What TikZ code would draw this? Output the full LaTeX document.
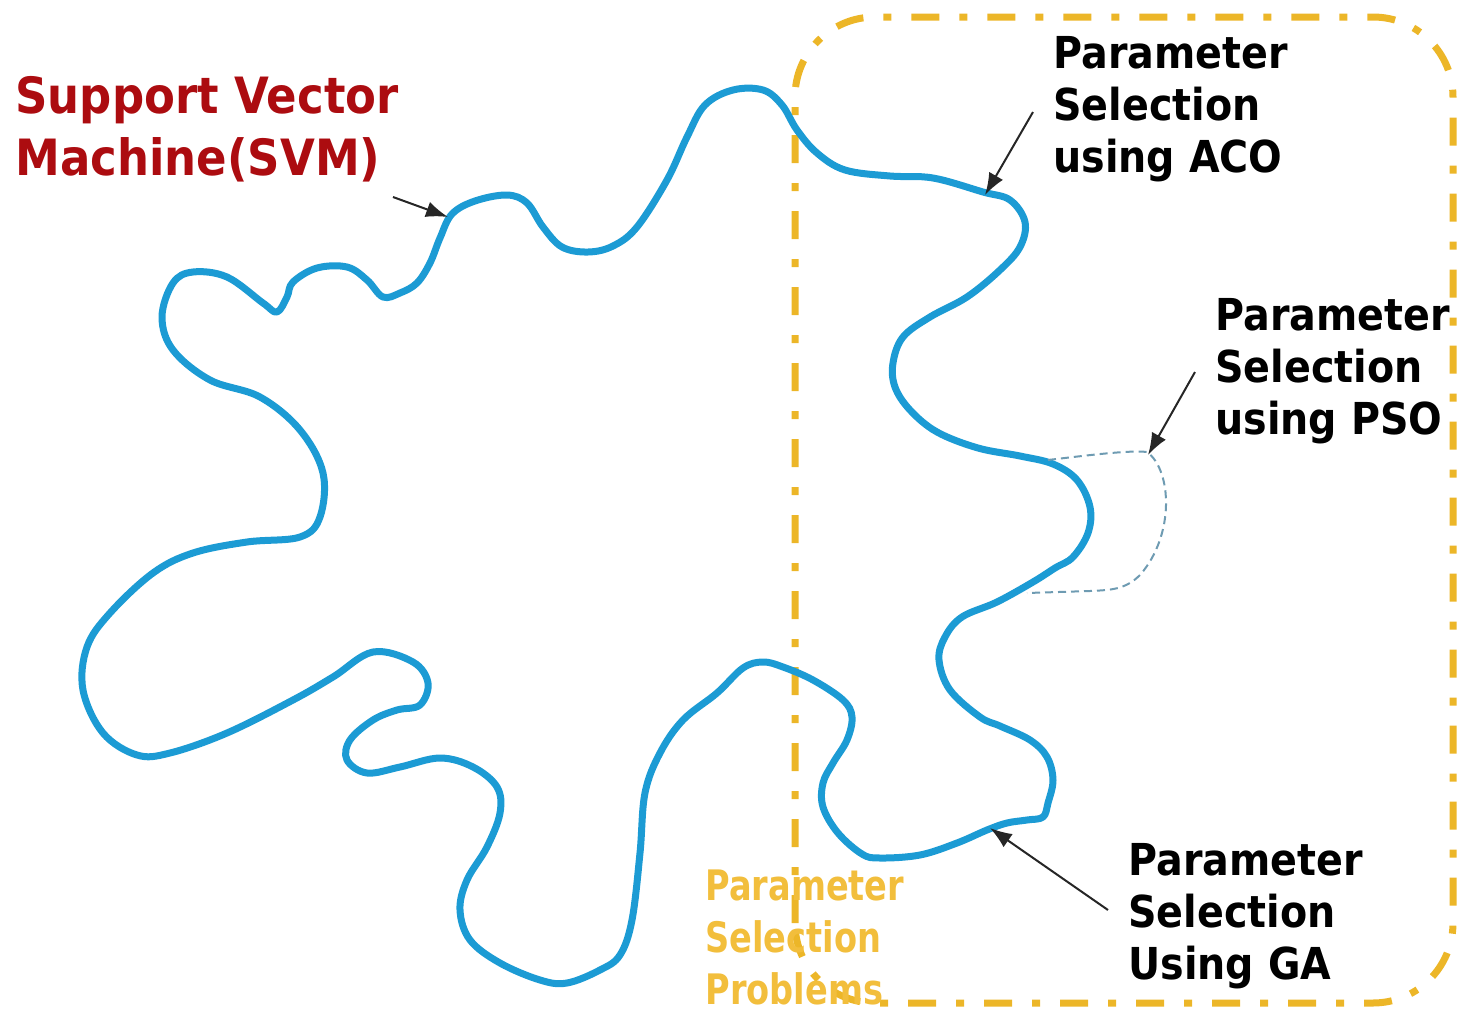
\documentclass[tikz,border=0pt]{standalone}
\usepackage{fontspec}
\newfontfamily\lblfont[FakeStretch=0.9]{DejaVu Sans}
\newfontfamily\probfont[FakeStretch=0.8]{DejaVu Sans}
\usetikzlibrary{arrows.meta}
\definecolor{blobblue}{RGB}{28,155,212}
\definecolor{frameyel}{RGB}{236,182,40}
\definecolor{svmred}{RGB}{172,12,16}
\definecolor{probor}{RGB}{242,190,60}
\definecolor{psogray}{RGB}{110,155,178}
\begin{document}
\begin{tikzpicture}[x=0.5pt,y=-0.5pt,
  blob/.style={draw=blobblue, line width=3.5pt, line join=round},
  frame/.style={draw=frameyel, line width=3.5pt, dash pattern=on 14pt off 10pt on 4pt off 10pt, rounded corners=40pt},
  psoline/.style={draw=psogray, line width=1pt, dash pattern=on 4pt off 2.5pt},
  lbl/.style={anchor=north west, inner sep=0pt, align=left, font={\lblfont\bfseries\fontsize{22}{26}\selectfont}},
  svmlbl/.style={lbl, text=svmred, font={\lblfont\bfseries\fontsize{25}{31}\selectfont}},
  problbl/.style={lbl, text=probor, font={\probfont\bfseries\fontsize{21}{26}\selectfont}},
  pointer/.style={draw=black!85, line width=1pt, -{Latex[length=11pt,width=8pt]}}]
\useasboundingbox (0,0) rectangle (1458,1013);

% frame
\draw[frame] (795,1003) rectangle (1453,17);

% blob
\draw[blob] plot[smooth cycle, tension=0.6] coordinates {
(452,214) (475,201) (507,195) (527,203) (543,227) (562,247) (588,252) (613,246) (637,227)
(667,180) (687,137) (705,105) (733,90) (763,90) (782,105) (797,130) (817,153) (845,170)
(890,176) (933,178) (983,192) (1010,200) (1025,222) (1020,247) (1000,270) (967,297)
(930,317) (903,337) (893,363) (895,387) (910,410) (937,432) (978,448) (1020,456)
(1053,464) (1077,480) (1090,507) (1088,533) (1073,557) (1055,568) (1033,582) (997,602)
(962,617) (945,637) (939,660) (950,690) (980,717) (1000,726) (1030,740) (1047,757)
(1053,780) (1048,803) (1043,817) (1027,820) (1007,823) (987,830) (957,843) (920,855)
(880,858) (862,854) (838,833) (823,807) (823,783) (833,763) (847,740) (852,717)
(843,700) (813,680) (783,667) (763,662) (743,668) (717,693) (683,720) (660,753)
(645,793) (640,853) (632,920) (620,955) (600,970) (567,983) (540,980) (500,963)
(470,940) (460,910) (467,880) (487,847) (500,813) (497,787) (473,767) (440,758)
(400,767) (367,773) (347,760) (350,740) (373,720) (397,710) (420,705) (428,683)
(413,662) (373,652) (333,677) (293,700) (227,733) (170,753) (137,755) (103,733)
(83,690) (87,647) (110,613) (153,573) (193,553) (247,542) (300,537) (320,517)
(323,473) (300,430) (260,397) (210,380) (173,350) (162,317) (173,283) (193,272)
(227,277) (263,303) (277,312) (287,297) (293,282) (317,268) (347,267) (367,280)
(383,297) (400,293) (417,283) (430,263) (440,238)};

% PSO dashed region
\draw[psoline] (1048,460) .. controls (1090,455) and (1130,450) .. (1147,452)
  .. controls (1172,470) and (1175,535) .. (1140,575)
  .. controls (1125,590) and (1110,590) .. (1090,591) -- (1027,593);

% labels
\node[svmlbl] (svm) at (15,76) {Support Vector\\Machine(SVM)};
\node[lbl] (aco) at (1053,36) {Parameter\\Selection\\using ACO};
\node[lbl] (pso) at (1215,298) {Parameter\\Selection\\using PSO};
\node[lbl] (ga) at (1128,843) {Parameter\\Selection\\Using GA};
\node[problbl] (prob) at (705,869) {Parameter\\Selection\\Problems};

% pointer coordinates
\coordinate (svmTail) at (393,197);
\coordinate (svmTip) at (448,217);
\coordinate (acoTail) at (1033,112);
\coordinate (acoTip) at (985,195);
\coordinate (psoTail) at (1195,372);
\coordinate (psoTip) at (1148,455);
\coordinate (gaTail) at (1108,910);
\coordinate (gaTip) at (990,828);

\draw[pointer] (svmTail) -- (svmTip);
\draw[pointer] (acoTail) -- (acoTip);
\draw[pointer] (psoTail) -- (psoTip);
\draw[pointer] (gaTail) -- (gaTip);
\end{tikzpicture}
\end{document}
